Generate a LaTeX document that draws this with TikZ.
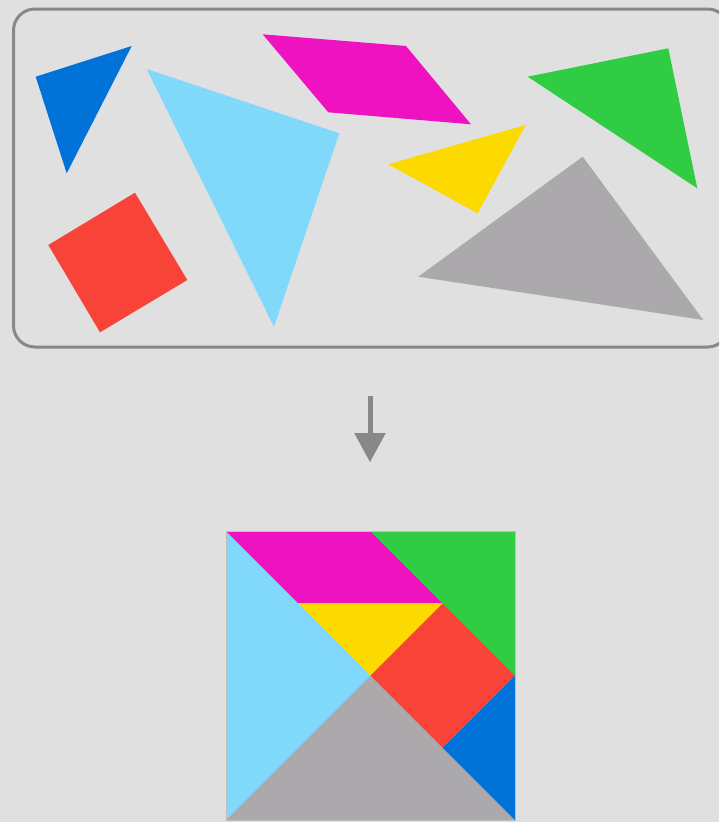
\documentclass[tikz,border=0pt]{standalone}
\usepackage{tikz}

\begin{document}
\tikzset{every picture/.style={line width=0.75pt}}

\begin{tikzpicture}[x=0.75pt,y=0.75pt,yscale=-1,xscale=1]
%set diagram left start at 0, and has height of 822
\useasboundingbox (0,0) rectangle (719,822);
\clip (0,0) rectangle (719,822);

%Shape: Rectangle [id:bg] 
\fill [color={rgb, 255:red, 224; green, 224; blue, 224 }  ] (0,0) rectangle (719,822) ;
%Shape: Rounded Rect [id:box] 
\draw [color={rgb, 255:red, 136; green, 136; blue, 136 }  ,draw opacity=1 ][line width=2.25] [rounded corners=16] (13.5,9) rectangle (729,347) ;

%Shape: Triangle [id:small1] 
\fill [color={rgb, 255:red, 0; green, 114; blue, 216 }  ] (35.7,76.7) -- (131.7,46) -- (66.7,173.3) -- cycle ;
%Shape: Triangle [id:large1] 
\fill [color={rgb, 255:red, 128; green, 216; blue, 250 }  ] (146.7,69) -- (339.3,133.3) -- (274,326.7) -- cycle ;
%Shape: Square [id:square] 
\fill [color={rgb, 255:red, 248; green, 68; blue, 56 }  ] (48.3,245) -- (135,192.7) -- (187.3,280) -- (100,332.3) -- cycle ;
%Shape: Parallelogram [id:para] 
\fill [color={rgb, 255:red, 239; green, 18; blue, 192 }  ] (262.7,34.3) -- (406,46) -- (471,124.3) -- (328.3,112.3) -- cycle ;
%Shape: Triangle [id:medium] 
\fill [color={rgb, 255:red, 48; green, 204; blue, 68 }  ] (527.7,76.7) -- (668.3,48.3) -- (697.3,188.3) -- cycle ;
%Shape: Triangle [id:small2] 
\fill [color={rgb, 255:red, 252; green, 218; blue, 0 }  ] (388.3,164.3) -- (525.7,125) -- (477.7,213.3) -- cycle ;
%Shape: Triangle [id:large2] 
\fill [color={rgb, 255:red, 171; green, 169; blue, 171 }  ] (418.3,276.7) -- (582.7,156.7) -- (703.3,320) -- cycle ;

%Straight Lines [id:shaft] 
\draw [color={rgb, 255:red, 136; green, 136; blue, 136 }  ,draw opacity=1 ][line width=3.75]  (370,396) -- (370,436) ;
%Shape: Triangle [id:head] 
\fill [color={rgb, 255:red, 136; green, 136; blue, 136 }  ] (354.2,433) -- (385.8,433) -- (370,462) -- cycle ;

%Shape: Triangle [id:sqlarge1] 
\fill [color={rgb, 255:red, 128; green, 216; blue, 250 }  ] (226,531) -- (370.5,675.5) -- (226,820) -- cycle ;
%Shape: Triangle [id:sqlarge2] 
\fill [color={rgb, 255:red, 171; green, 169; blue, 171 }  ] (226,820) -- (370.5,675.5) -- (515,820) -- cycle ;
%Shape: Parallelogram [id:sqpara] 
\fill [color={rgb, 255:red, 239; green, 18; blue, 192 }  ] (226,531) -- (370.5,531) -- (442.75,603.25) -- (298.25,603.25) -- cycle ;
%Shape: Triangle [id:sqmedium] 
\fill [color={rgb, 255:red, 48; green, 204; blue, 68 }  ] (370.5,531) -- (515,531) -- (515,675.5) -- cycle ;
%Shape: Triangle [id:sqsmall2] 
\fill [color={rgb, 255:red, 252; green, 218; blue, 0 }  ] (298.25,603.25) -- (442.75,603.25) -- (370.5,675.5) -- cycle ;
%Shape: Square [id:sqsquare] 
\fill [color={rgb, 255:red, 248; green, 68; blue, 56 }  ] (442.75,603.25) -- (515,675.5) -- (442.75,747.75) -- (370.5,675.5) -- cycle ;
%Shape: Triangle [id:sqsmall1] 
\fill [color={rgb, 255:red, 0; green, 114; blue, 216 }  ] (515,675.5) -- (515,820) -- (442.75,747.75) -- cycle ;
%Shape: Square [id:frame] 
\draw [color={rgb, 255:red, 190; green, 190; blue, 190 }  ,draw opacity=1 ][line width=0.5] (226,531) rectangle (515,820) ;

\end{tikzpicture}
\end{document}
